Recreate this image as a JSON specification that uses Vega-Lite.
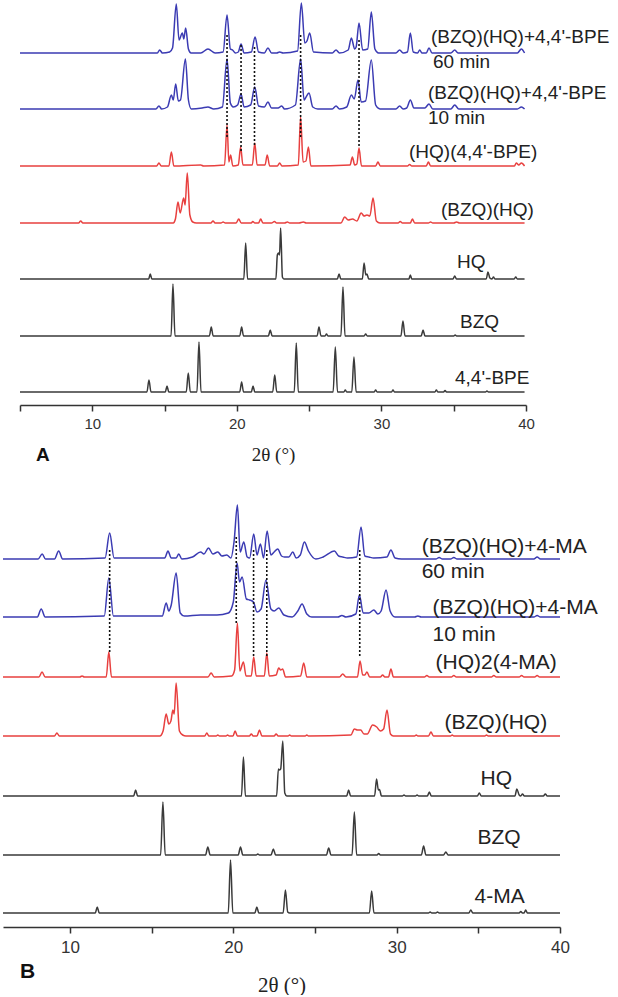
{
"$schema": "https://vega.github.io/schema/vega-lite/v6.json",
"padding": 0,
"background": "white",
"bounds": "flush",
"spacing": 92,
"resolve": {"scale": {"color": "independent"}},
"config": {"view": {"stroke": null}},
"datasets": {
"a": [
{"s":"A60","t":5,"i":352},{"s":"A60","t":14.5,"i":352},{"s":"A60","t":14.66,"i":355},{"s":"A60","t":14.85,"i":352},{"s":"A60","t":15.35,"i":353},{"s":"A60","t":15.55,"i":357},{"s":"A60","t":15.81,"i":401},{"s":"A60","t":16.0,"i":365},{"s":"A60","t":16.23,"i":372},{"s":"A60","t":16.33,"i":366},{"s":"A60","t":16.46,"i":377},{"s":"A60","t":16.65,"i":356},{"s":"A60","t":16.83,"i":352},{"s":"A60","t":17.5,"i":352},{"s":"A60","t":18.0,"i":356},{"s":"A60","t":18.5,"i":352},{"s":"A60","t":19.05,"i":353},{"s":"A60","t":19.32,"i":390},{"s":"A60","t":19.55,"i":356},{"s":"A60","t":19.7,"i":355},{"s":"A60","t":19.9,"i":352},{"s":"A60","t":20.1,"i":353},{"s":"A60","t":20.29,"i":361},{"s":"A60","t":20.5,"i":352},{"s":"A60","t":21.0,"i":353},{"s":"A60","t":21.26,"i":368},{"s":"A60","t":21.5,"i":353},{"s":"A60","t":21.9,"i":352},{"s":"A60","t":22.15,"i":357},{"s":"A60","t":22.4,"i":352},{"s":"A60","t":22.75,"i":352},{"s":"A60","t":22.96,"i":353},{"s":"A60","t":23.2,"i":352},{"s":"A60","t":24.2,"i":354},{"s":"A60","t":24.46,"i":402},{"s":"A60","t":24.7,"i":362},{"s":"A60","t":24.85,"i":364},{"s":"A60","t":25.04,"i":372},{"s":"A60","t":25.3,"i":353},{"s":"A60","t":26.6,"i":352},{"s":"A60","t":26.86,"i":355},{"s":"A60","t":27.1,"i":352},{"s":"A60","t":27.7,"i":355},{"s":"A60","t":27.92,"i":367},{"s":"A60","t":28.15,"i":356},{"s":"A60","t":28.25,"i":358},{"s":"A60","t":28.45,"i":382},{"s":"A60","t":28.7,"i":355},{"s":"A60","t":29.05,"i":356},{"s":"A60","t":29.3,"i":393},{"s":"A60","t":29.55,"i":356},{"s":"A60","t":29.8,"i":352},{"s":"A60","t":31.0,"i":352},{"s":"A60","t":31.26,"i":355},{"s":"A60","t":31.5,"i":352},{"s":"A60","t":31.8,"i":353},{"s":"A60","t":32.0,"i":372},{"s":"A60","t":32.2,"i":353},{"s":"A60","t":32.5,"i":352},{"s":"A60","t":32.65,"i":355},{"s":"A60","t":32.8,"i":352},{"s":"A60","t":33.1,"i":352},{"s":"A60","t":33.29,"i":357},{"s":"A60","t":33.5,"i":352},{"s":"A60","t":34.8,"i":352},{"s":"A60","t":35.07,"i":355},{"s":"A60","t":35.3,"i":352},{"s":"A60","t":39.4,"i":352},{"s":"A60","t":39.68,"i":356},{"s":"A60","t":39.9,"i":352},

{"s":"A10","t":5,"i":296},{"s":"A10","t":14.4,"i":296},{"s":"A10","t":14.61,"i":299},{"s":"A10","t":14.8,"i":296},{"s":"A10","t":15.2,"i":298},{"s":"A10","t":15.47,"i":310},{"s":"A10","t":15.6,"i":305},{"s":"A10","t":15.77,"i":321},{"s":"A10","t":15.95,"i":304},{"s":"A10","t":16.1,"i":305},{"s":"A10","t":16.44,"i":346},{"s":"A10","t":16.65,"i":305},{"s":"A10","t":16.85,"i":296},{"s":"A10","t":17.6,"i":297},{"s":"A10","t":18.0,"i":298},{"s":"A10","t":18.4,"i":296},{"s":"A10","t":19.0,"i":298},{"s":"A10","t":19.32,"i":346},{"s":"A10","t":19.55,"i":302},{"s":"A10","t":19.75,"i":298},{"s":"A10","t":20.05,"i":300},{"s":"A10","t":20.29,"i":311},{"s":"A10","t":20.5,"i":298},{"s":"A10","t":20.95,"i":300},{"s":"A10","t":21.24,"i":318},{"s":"A10","t":21.5,"i":299},{"s":"A10","t":21.9,"i":298},{"s":"A10","t":22.15,"i":303},{"s":"A10","t":22.4,"i":297},{"s":"A10","t":22.85,"i":297},{"s":"A10","t":23.1,"i":299},{"s":"A10","t":23.3,"i":296},{"s":"A10","t":24.05,"i":300},{"s":"A10","t":24.41,"i":346},{"s":"A10","t":24.65,"i":305},{"s":"A10","t":24.75,"i":307},{"s":"A10","t":24.99,"i":312},{"s":"A10","t":25.25,"i":298},{"s":"A10","t":25.6,"i":296},{"s":"A10","t":26.6,"i":296},{"s":"A10","t":26.86,"i":299},{"s":"A10","t":27.1,"i":296},{"s":"A10","t":27.6,"i":298},{"s":"A10","t":27.92,"i":310},{"s":"A10","t":28.12,"i":306},{"s":"A10","t":28.38,"i":325},{"s":"A10","t":28.6,"i":303},{"s":"A10","t":28.9,"i":304},{"s":"A10","t":29.3,"i":345},{"s":"A10","t":29.6,"i":300},{"s":"A10","t":29.9,"i":296},{"s":"A10","t":31.0,"i":296},{"s":"A10","t":31.26,"i":299},{"s":"A10","t":31.5,"i":296},{"s":"A10","t":31.75,"i":297},{"s":"A10","t":32.0,"i":305},{"s":"A10","t":32.25,"i":297},{"s":"A10","t":33.0,"i":297},{"s":"A10","t":33.29,"i":301},{"s":"A10","t":33.55,"i":296},{"s":"A10","t":34.8,"i":296},{"s":"A10","t":35.07,"i":300},{"s":"A10","t":35.35,"i":296},{"s":"A10","t":39.4,"i":296},{"s":"A10","t":39.68,"i":298},{"s":"A10","t":39.9,"i":296},

{"s":"AHB","t":5,"i":239},{"s":"AHB","t":14.45,"i":239},{"s":"AHB","t":14.61,"i":242},{"s":"AHB","t":14.77,"i":239},{"s":"AHB","t":15.3,"i":239},{"s":"AHB","t":15.47,"i":253},{"s":"AHB","t":15.64,"i":239},{"s":"AHB","t":17.5,"i":240},{"s":"AHB","t":17.7,"i":239},{"s":"AHB","t":19.15,"i":240},{"s":"AHB","t":19.32,"i":280},{"s":"AHB","t":19.45,"i":243},{"s":"AHB","t":19.57,"i":250},{"s":"AHB","t":19.72,"i":239},{"s":"AHB","t":20.1,"i":240},{"s":"AHB","t":20.26,"i":258},{"s":"AHB","t":20.42,"i":240},{"s":"AHB","t":21.07,"i":240},{"s":"AHB","t":21.24,"i":262},{"s":"AHB","t":21.4,"i":240},{"s":"AHB","t":21.95,"i":240},{"s":"AHB","t":22.1,"i":250},{"s":"AHB","t":22.27,"i":239},{"s":"AHB","t":22.8,"i":239},{"s":"AHB","t":22.96,"i":242},{"s":"AHB","t":23.12,"i":239},{"s":"AHB","t":24.25,"i":240},{"s":"AHB","t":24.41,"i":288},{"s":"AHB","t":24.58,"i":243},{"s":"AHB","t":24.78,"i":244},{"s":"AHB","t":24.95,"i":258},{"s":"AHB","t":25.12,"i":239},{"s":"AHB","t":27.83,"i":240},{"s":"AHB","t":27.99,"i":248},{"s":"AHB","t":28.15,"i":240},{"s":"AHB","t":28.3,"i":241},{"s":"AHB","t":28.45,"i":257},{"s":"AHB","t":28.62,"i":239},{"s":"AHB","t":29.6,"i":239},{"s":"AHB","t":29.76,"i":243},{"s":"AHB","t":29.92,"i":239},{"s":"AHB","t":31.8,"i":239},{"s":"AHB","t":31.95,"i":240.5},{"s":"AHB","t":32.1,"i":239},{"s":"AHB","t":33.1,"i":239},{"s":"AHB","t":33.25,"i":243},{"s":"AHB","t":33.4,"i":239},{"s":"AHB","t":39.2,"i":239},{"s":"AHB","t":39.33,"i":242},{"s":"AHB","t":39.5,"i":240},{"s":"AHB","t":39.68,"i":242},{"s":"AHB","t":39.9,"i":239},

{"s":"ABH","t":5,"i":182},{"s":"ABH","t":9.05,"i":182},{"s":"ABH","t":9.2,"i":184},{"s":"ABH","t":9.35,"i":182},{"s":"ABH","t":15.6,"i":182},{"s":"ABH","t":15.75,"i":186},{"s":"ABH","t":15.93,"i":203},{"s":"ABH","t":16.08,"i":192},{"s":"ABH","t":16.32,"i":207},{"s":"ABH","t":16.42,"i":200},{"s":"ABH","t":16.57,"i":232},{"s":"ABH","t":16.75,"i":190},{"s":"ABH","t":16.95,"i":183},{"s":"ABH","t":17.2,"i":182},{"s":"ABH","t":18.2,"i":182},{"s":"ABH","t":18.35,"i":184},{"s":"ABH","t":18.5,"i":182},{"s":"ABH","t":18.9,"i":182},{"s":"ABH","t":19.05,"i":183},{"s":"ABH","t":19.2,"i":182},{"s":"ABH","t":19.95,"i":182},{"s":"ABH","t":20.13,"i":186},{"s":"ABH","t":20.3,"i":182},{"s":"ABH","t":21.0,"i":182},{"s":"ABH","t":21.1,"i":183.5},{"s":"ABH","t":21.25,"i":182},{"s":"ABH","t":21.5,"i":182},{"s":"ABH","t":21.65,"i":186},{"s":"ABH","t":21.8,"i":182},{"s":"ABH","t":22.4,"i":182},{"s":"ABH","t":22.6,"i":183.5},{"s":"ABH","t":22.75,"i":182},{"s":"ABH","t":23.3,"i":182},{"s":"ABH","t":23.5,"i":183},{"s":"ABH","t":23.65,"i":182},{"s":"ABH","t":24.3,"i":182},{"s":"ABH","t":24.6,"i":183},{"s":"ABH","t":24.8,"i":182},{"s":"ABH","t":27.2,"i":182},{"s":"ABH","t":27.46,"i":188},{"s":"ABH","t":27.7,"i":185},{"s":"ABH","t":28.0,"i":186},{"s":"ABH","t":28.3,"i":184},{"s":"ABH","t":28.6,"i":192},{"s":"ABH","t":28.8,"i":189},{"s":"ABH","t":29.0,"i":190},{"s":"ABH","t":29.2,"i":189},{"s":"ABH","t":29.42,"i":207},{"s":"ABH","t":29.65,"i":184},{"s":"ABH","t":29.9,"i":182},{"s":"ABH","t":31.15,"i":182},{"s":"ABH","t":31.3,"i":183.5},{"s":"ABH","t":31.45,"i":182},{"s":"ABH","t":32.0,"i":182},{"s":"ABH","t":32.14,"i":186},{"s":"ABH","t":32.3,"i":182},{"s":"ABH","t":33.25,"i":182},{"s":"ABH","t":33.4,"i":183},{"s":"ABH","t":33.55,"i":182},{"s":"ABH","t":35.0,"i":182},{"s":"ABH","t":35.2,"i":183},{"s":"ABH","t":35.4,"i":182},{"s":"ABH","t":39.9,"i":182},

{"s":"AHQ","t":5,"i":126},{"s":"AHQ","t":13.9,"i":126},{"s":"AHQ","t":14.01,"i":131},{"s":"AHQ","t":14.12,"i":126},{"s":"AHQ","t":20.48,"i":126},{"s":"AHQ","t":20.61,"i":162},{"s":"AHQ","t":20.74,"i":126},{"s":"AHQ","t":22.7,"i":126},{"s":"AHQ","t":22.8,"i":150},{"s":"AHQ","t":22.87,"i":152},{"s":"AHQ","t":22.95,"i":150},{"s":"AHQ","t":23.03,"i":177},{"s":"AHQ","t":23.15,"i":128},{"s":"AHQ","t":23.25,"i":126},{"s":"AHQ","t":26.95,"i":126},{"s":"AHQ","t":27.07,"i":131},{"s":"AHQ","t":27.19,"i":126},{"s":"AHQ","t":28.68,"i":126},{"s":"AHQ","t":28.8,"i":142},{"s":"AHQ","t":28.92,"i":130},{"s":"AHQ","t":29.0,"i":131},{"s":"AHQ","t":29.12,"i":126},{"s":"AHQ","t":31.9,"i":126},{"s":"AHQ","t":32.0,"i":130},{"s":"AHQ","t":32.1,"i":126},{"s":"AHQ","t":34.95,"i":126},{"s":"AHQ","t":35.07,"i":129},{"s":"AHQ","t":35.19,"i":126},{"s":"AHQ","t":37.25,"i":126},{"s":"AHQ","t":37.37,"i":133},{"s":"AHQ","t":37.5,"i":127},{"s":"AHQ","t":37.65,"i":126},{"s":"AHQ","t":37.75,"i":128},{"s":"AHQ","t":37.85,"i":126},{"s":"AHQ","t":39.18,"i":126},{"s":"AHQ","t":39.29,"i":128},{"s":"AHQ","t":39.4,"i":126},{"s":"AHQ","t":39.9,"i":126},

{"s":"ABZ","t":5,"i":69},{"s":"ABZ","t":15.45,"i":69},{"s":"ABZ","t":15.58,"i":121},{"s":"ABZ","t":15.72,"i":69},{"s":"ABZ","t":18.1,"i":69},{"s":"ABZ","t":18.23,"i":78},{"s":"ABZ","t":18.36,"i":69},{"s":"ABZ","t":20.2,"i":69},{"s":"ABZ","t":20.33,"i":78},{"s":"ABZ","t":20.46,"i":69},{"s":"ABZ","t":22.18,"i":69},{"s":"ABZ","t":22.31,"i":75},{"s":"ABZ","t":22.44,"i":69},{"s":"ABZ","t":25.55,"i":69},{"s":"ABZ","t":25.68,"i":78},{"s":"ABZ","t":25.82,"i":69},{"s":"ABZ","t":26.1,"i":69},{"s":"ABZ","t":26.2,"i":71},{"s":"ABZ","t":26.3,"i":69},{"s":"ABZ","t":27.2,"i":69},{"s":"ABZ","t":27.34,"i":118},{"s":"ABZ","t":27.48,"i":69},{"s":"ABZ","t":28.8,"i":69},{"s":"ABZ","t":28.91,"i":71},{"s":"ABZ","t":29.02,"i":69},{"s":"ABZ","t":31.35,"i":69},{"s":"ABZ","t":31.49,"i":84},{"s":"ABZ","t":31.63,"i":69},{"s":"ABZ","t":32.75,"i":69},{"s":"ABZ","t":32.88,"i":75},{"s":"ABZ","t":33.01,"i":69},{"s":"ABZ","t":35.0,"i":69},{"s":"ABZ","t":35.1,"i":70},{"s":"ABZ","t":35.2,"i":69},{"s":"ABZ","t":39.9,"i":69},

{"s":"ABP","t":5,"i":13},{"s":"ABP","t":13.78,"i":13},{"s":"ABP","t":13.92,"i":25},{"s":"ABP","t":14.06,"i":13},{"s":"ABP","t":15.05,"i":13},{"s":"ABP","t":15.17,"i":19},{"s":"ABP","t":15.29,"i":13},{"s":"ABP","t":16.5,"i":13},{"s":"ABP","t":16.64,"i":32},{"s":"ABP","t":16.78,"i":13},{"s":"ABP","t":17.24,"i":13},{"s":"ABP","t":17.38,"i":63},{"s":"ABP","t":17.52,"i":13},{"s":"ABP","t":20.2,"i":13},{"s":"ABP","t":20.33,"i":23},{"s":"ABP","t":20.46,"i":13},{"s":"ABP","t":21.0,"i":13},{"s":"ABP","t":21.12,"i":19},{"s":"ABP","t":21.24,"i":13},{"s":"ABP","t":22.48,"i":13},{"s":"ABP","t":22.62,"i":30},{"s":"ABP","t":22.76,"i":13},{"s":"ABP","t":23.97,"i":13},{"s":"ABP","t":24.11,"i":62},{"s":"ABP","t":24.25,"i":13},{"s":"ABP","t":26.66,"i":13},{"s":"ABP","t":26.81,"i":58},{"s":"ABP","t":26.96,"i":13},{"s":"ABP","t":27.4,"i":13},{"s":"ABP","t":27.5,"i":15},{"s":"ABP","t":27.6,"i":13},{"s":"ABP","t":27.95,"i":13},{"s":"ABP","t":28.1,"i":48},{"s":"ABP","t":28.25,"i":13},{"s":"ABP","t":29.5,"i":13},{"s":"ABP","t":29.6,"i":15},{"s":"ABP","t":29.7,"i":13},{"s":"ABP","t":30.7,"i":13},{"s":"ABP","t":30.8,"i":15},{"s":"ABP","t":30.9,"i":13},{"s":"ABP","t":33.7,"i":13},{"s":"ABP","t":33.8,"i":15},{"s":"ABP","t":33.9,"i":13},{"s":"ABP","t":34.3,"i":13},{"s":"ABP","t":34.4,"i":14.5},{"s":"ABP","t":34.5,"i":13},{"s":"ABP","t":37.2,"i":13},{"s":"ABP","t":37.3,"i":14},{"s":"ABP","t":37.4,"i":13},{"s":"ABP","t":39.9,"i":13}
],
"b": [
{"s":"B60","t":5.9,"i":368},{"s":"B60","t":8.05,"i":368},{"s":"B60","t":8.3,"i":373},{"s":"B60","t":8.5,"i":368},{"s":"B60","t":9.05,"i":368},{"s":"B60","t":9.31,"i":376},{"s":"B60","t":9.55,"i":368},{"s":"B60","t":12.15,"i":369},{"s":"B60","t":12.43,"i":394},{"s":"B60","t":12.7,"i":369},{"s":"B60","t":15.8,"i":369},{"s":"B60","t":16.0,"i":376},{"s":"B60","t":16.2,"i":369},{"s":"B60","t":16.5,"i":369},{"s":"B60","t":16.66,"i":373},{"s":"B60","t":16.85,"i":368},{"s":"B60","t":17.5,"i":370},{"s":"B60","t":18.0,"i":375},{"s":"B60","t":18.2,"i":373},{"s":"B60","t":18.48,"i":379},{"s":"B60","t":18.75,"i":373},{"s":"B60","t":19.05,"i":375},{"s":"B60","t":19.3,"i":371},{"s":"B60","t":19.6,"i":372},{"s":"B60","t":19.85,"i":369},{"s":"B60","t":20.05,"i":386},{"s":"B60","t":20.25,"i":422},{"s":"B60","t":20.42,"i":375},{"s":"B60","t":20.64,"i":385},{"s":"B60","t":20.85,"i":370},{"s":"B60","t":21.0,"i":369},{"s":"B60","t":21.25,"i":393},{"s":"B60","t":21.45,"i":372},{"s":"B60","t":21.66,"i":383},{"s":"B60","t":21.85,"i":369},{"s":"B60","t":22.07,"i":396},{"s":"B60","t":22.3,"i":372},{"s":"B60","t":22.5,"i":375},{"s":"B60","t":22.72,"i":378},{"s":"B60","t":22.95,"i":371},{"s":"B60","t":23.13,"i":370},{"s":"B60","t":23.4,"i":370},{"s":"B60","t":23.64,"i":375},{"s":"B60","t":23.85,"i":369},{"s":"B60","t":24.1,"i":372},{"s":"B60","t":24.35,"i":385},{"s":"B60","t":24.6,"i":376},{"s":"B60","t":25.05,"i":368},{"s":"B60","t":25.5,"i":370},{"s":"B60","t":26.19,"i":376},{"s":"B60","t":26.45,"i":371},{"s":"B60","t":26.7,"i":370},{"s":"B60","t":27.0,"i":369},{"s":"B60","t":27.55,"i":370},{"s":"B60","t":27.82,"i":400},{"s":"B60","t":28.05,"i":371},{"s":"B60","t":28.3,"i":370},{"s":"B60","t":28.6,"i":369},{"s":"B60","t":29.4,"i":370},{"s":"B60","t":29.65,"i":377},{"s":"B60","t":29.9,"i":369},{"s":"B60","t":30.3,"i":368},{"s":"B60","t":32.4,"i":368},{"s":"B60","t":32.6,"i":369.5},{"s":"B60","t":32.8,"i":368},{"s":"B60","t":33.3,"i":368},{"s":"B60","t":33.5,"i":369.5},{"s":"B60","t":33.7,"i":368},{"s":"B60","t":38.4,"i":368},{"s":"B60","t":38.6,"i":370},{"s":"B60","t":38.8,"i":368},{"s":"B60","t":40,"i":368},

{"s":"B10","t":5.9,"i":310},{"s":"B10","t":8.0,"i":310},{"s":"B10","t":8.24,"i":318},{"s":"B10","t":8.48,"i":310},{"s":"B10","t":12.1,"i":311},{"s":"B10","t":12.38,"i":349},{"s":"B10","t":12.66,"i":311},{"s":"B10","t":15.65,"i":311},{"s":"B10","t":15.89,"i":324},{"s":"B10","t":16.05,"i":316},{"s":"B10","t":16.2,"i":322},{"s":"B10","t":16.5,"i":354},{"s":"B10","t":16.75,"i":314},{"s":"B10","t":17.0,"i":311},{"s":"B10","t":18.0,"i":312},{"s":"B10","t":19.0,"i":312},{"s":"B10","t":19.7,"i":314},{"s":"B10","t":20.0,"i":325},{"s":"B10","t":20.23,"i":364},{"s":"B10","t":20.38,"i":345},{"s":"B10","t":20.54,"i":350},{"s":"B10","t":20.8,"i":328},{"s":"B10","t":21.0,"i":327},{"s":"B10","t":21.23,"i":325},{"s":"B10","t":21.45,"i":315},{"s":"B10","t":21.7,"i":318},{"s":"B10","t":22.0,"i":347},{"s":"B10","t":22.3,"i":318},{"s":"B10","t":22.5,"i":316},{"s":"B10","t":22.78,"i":319},{"s":"B10","t":23.1,"i":312},{"s":"B10","t":23.6,"i":310},{"s":"B10","t":23.95,"i":316},{"s":"B10","t":24.21,"i":323},{"s":"B10","t":24.5,"i":313},{"s":"B10","t":24.8,"i":310},{"s":"B10","t":26.4,"i":310},{"s":"B10","t":26.65,"i":311.5},{"s":"B10","t":26.9,"i":310},{"s":"B10","t":27.5,"i":313},{"s":"B10","t":27.72,"i":332},{"s":"B10","t":27.95,"i":314},{"s":"B10","t":28.3,"i":314},{"s":"B10","t":28.6,"i":317},{"s":"B10","t":28.85,"i":313},{"s":"B10","t":29.05,"i":316},{"s":"B10","t":29.35,"i":337},{"s":"B10","t":29.6,"i":316},{"s":"B10","t":29.9,"i":310},{"s":"B10","t":31.1,"i":310},{"s":"B10","t":31.3,"i":311},{"s":"B10","t":31.5,"i":310},{"s":"B10","t":38.4,"i":310},{"s":"B10","t":38.6,"i":311.5},{"s":"B10","t":38.8,"i":310},{"s":"B10","t":40,"i":310},

{"s":"BHM","t":5.9,"i":250},{"s":"BHM","t":8.1,"i":250},{"s":"BHM","t":8.29,"i":255},{"s":"BHM","t":8.48,"i":250},{"s":"BHM","t":10.6,"i":250},{"s":"BHM","t":10.74,"i":251},{"s":"BHM","t":10.88,"i":250},{"s":"BHM","t":12.22,"i":250},{"s":"BHM","t":12.38,"i":275},{"s":"BHM","t":12.54,"i":250},{"s":"BHM","t":18.45,"i":250},{"s":"BHM","t":18.64,"i":254},{"s":"BHM","t":18.83,"i":250},{"s":"BHM","t":19.9,"i":251},{"s":"BHM","t":20.08,"i":257},{"s":"BHM","t":20.25,"i":304},{"s":"BHM","t":20.4,"i":256},{"s":"BHM","t":20.62,"i":265},{"s":"BHM","t":20.78,"i":251},{"s":"BHM","t":21.1,"i":251},{"s":"BHM","t":21.25,"i":270},{"s":"BHM","t":21.4,"i":251},{"s":"BHM","t":21.9,"i":251},{"s":"BHM","t":22.05,"i":274},{"s":"BHM","t":22.2,"i":251},{"s":"BHM","t":22.62,"i":252},{"s":"BHM","t":22.78,"i":259},{"s":"BHM","t":22.9,"i":257},{"s":"BHM","t":23.02,"i":258},{"s":"BHM","t":23.2,"i":250},{"s":"BHM","t":24.12,"i":251},{"s":"BHM","t":24.31,"i":264},{"s":"BHM","t":24.5,"i":250},{"s":"BHM","t":26.5,"i":250},{"s":"BHM","t":26.7,"i":253},{"s":"BHM","t":26.9,"i":250},{"s":"BHM","t":27.6,"i":250},{"s":"BHM","t":27.76,"i":266},{"s":"BHM","t":27.92,"i":252},{"s":"BHM","t":28.05,"i":252},{"s":"BHM","t":28.18,"i":255},{"s":"BHM","t":28.35,"i":250},{"s":"BHM","t":29.0,"i":250},{"s":"BHM","t":29.14,"i":252},{"s":"BHM","t":29.28,"i":250},{"s":"BHM","t":29.5,"i":250},{"s":"BHM","t":29.65,"i":258},{"s":"BHM","t":29.8,"i":250},{"s":"BHM","t":31.7,"i":250},{"s":"BHM","t":31.85,"i":251.5},{"s":"BHM","t":32.0,"i":250},{"s":"BHM","t":33.35,"i":250},{"s":"BHM","t":33.5,"i":251.5},{"s":"BHM","t":33.65,"i":250},{"s":"BHM","t":35.8,"i":250},{"s":"BHM","t":35.95,"i":251.5},{"s":"BHM","t":36.1,"i":250},{"s":"BHM","t":37.5,"i":250},{"s":"BHM","t":37.65,"i":251.5},{"s":"BHM","t":37.8,"i":250},{"s":"BHM","t":38.45,"i":250},{"s":"BHM","t":38.6,"i":251.5},{"s":"BHM","t":38.75,"i":250},{"s":"BHM","t":40,"i":250},

{"s":"BBH","t":5.9,"i":191},{"s":"BBH","t":9.05,"i":191},{"s":"BBH","t":9.2,"i":194},{"s":"BBH","t":9.35,"i":191},{"s":"BBH","t":15.5,"i":191},{"s":"BBH","t":15.7,"i":196},{"s":"BBH","t":15.89,"i":213},{"s":"BBH","t":16.05,"i":203},{"s":"BBH","t":16.18,"i":206},{"s":"BBH","t":16.3,"i":217},{"s":"BBH","t":16.38,"i":213},{"s":"BBH","t":16.5,"i":244},{"s":"BBH","t":16.7,"i":196},{"s":"BBH","t":16.9,"i":192},{"s":"BBH","t":17.1,"i":191},{"s":"BBH","t":18.25,"i":191},{"s":"BBH","t":18.38,"i":194},{"s":"BBH","t":18.5,"i":191},{"s":"BBH","t":18.95,"i":191},{"s":"BBH","t":19.05,"i":192},{"s":"BBH","t":19.15,"i":191},{"s":"BBH","t":19.55,"i":191},{"s":"BBH","t":19.65,"i":192},{"s":"BBH","t":19.75,"i":191},{"s":"BBH","t":19.98,"i":191},{"s":"BBH","t":20.11,"i":196},{"s":"BBH","t":20.25,"i":191},{"s":"BBH","t":20.98,"i":191},{"s":"BBH","t":21.1,"i":193},{"s":"BBH","t":21.22,"i":191},{"s":"BBH","t":21.45,"i":191},{"s":"BBH","t":21.6,"i":197},{"s":"BBH","t":21.75,"i":191},{"s":"BBH","t":22.5,"i":191},{"s":"BBH","t":22.62,"i":193},{"s":"BBH","t":22.75,"i":191},{"s":"BBH","t":23.35,"i":191},{"s":"BBH","t":23.45,"i":192},{"s":"BBH","t":23.55,"i":191},{"s":"BBH","t":24.4,"i":191},{"s":"BBH","t":24.5,"i":192},{"s":"BBH","t":24.6,"i":191},{"s":"BBH","t":27.2,"i":192},{"s":"BBH","t":27.41,"i":198},{"s":"BBH","t":27.6,"i":197},{"s":"BBH","t":27.8,"i":197},{"s":"BBH","t":28.0,"i":193},{"s":"BBH","t":28.2,"i":193},{"s":"BBH","t":28.53,"i":202},{"s":"BBH","t":28.78,"i":200},{"s":"BBH","t":29.0,"i":196},{"s":"BBH","t":29.2,"i":198},{"s":"BBH","t":29.41,"i":217},{"s":"BBH","t":29.62,"i":193},{"s":"BBH","t":29.8,"i":191},{"s":"BBH","t":31.1,"i":191},{"s":"BBH","t":31.2,"i":192},{"s":"BBH","t":31.3,"i":191},{"s":"BBH","t":31.95,"i":191},{"s":"BBH","t":32.1,"i":195},{"s":"BBH","t":32.25,"i":191},{"s":"BBH","t":33.3,"i":191},{"s":"BBH","t":33.4,"i":192},{"s":"BBH","t":33.5,"i":191},{"s":"BBH","t":35.4,"i":191},{"s":"BBH","t":35.5,"i":192},{"s":"BBH","t":35.6,"i":191},{"s":"BBH","t":40,"i":191},

{"s":"BHQ","t":5.9,"i":131},{"s":"BHQ","t":13.9,"i":131},{"s":"BHQ","t":14.02,"i":137},{"s":"BHQ","t":14.14,"i":131},{"s":"BHQ","t":20.5,"i":131},{"s":"BHQ","t":20.62,"i":170},{"s":"BHQ","t":20.74,"i":131},{"s":"BHQ","t":22.65,"i":131},{"s":"BHQ","t":22.76,"i":158},{"s":"BHQ","t":22.84,"i":157},{"s":"BHQ","t":22.9,"i":158},{"s":"BHQ","t":23.03,"i":186},{"s":"BHQ","t":23.15,"i":134},{"s":"BHQ","t":23.27,"i":131},{"s":"BHQ","t":26.94,"i":131},{"s":"BHQ","t":27.06,"i":137},{"s":"BHQ","t":27.18,"i":131},{"s":"BHQ","t":28.65,"i":131},{"s":"BHQ","t":28.77,"i":148},{"s":"BHQ","t":28.88,"i":137},{"s":"BHQ","t":28.95,"i":137.5},{"s":"BHQ","t":29.07,"i":131},{"s":"BHQ","t":30.35,"i":131},{"s":"BHQ","t":30.45,"i":132},{"s":"BHQ","t":30.55,"i":131},{"s":"BHQ","t":31.15,"i":131},{"s":"BHQ","t":31.25,"i":132},{"s":"BHQ","t":31.35,"i":131},{"s":"BHQ","t":31.88,"i":131},{"s":"BHQ","t":32.0,"i":135},{"s":"BHQ","t":32.12,"i":131},{"s":"BHQ","t":34.94,"i":131},{"s":"BHQ","t":35.06,"i":134},{"s":"BHQ","t":35.18,"i":131},{"s":"BHQ","t":37.24,"i":131},{"s":"BHQ","t":37.36,"i":138},{"s":"BHQ","t":37.5,"i":132},{"s":"BHQ","t":37.6,"i":131},{"s":"BHQ","t":37.7,"i":133},{"s":"BHQ","t":37.82,"i":131},{"s":"BHQ","t":38.98,"i":131},{"s":"BHQ","t":39.1,"i":133},{"s":"BHQ","t":39.22,"i":131},{"s":"BHQ","t":40,"i":131},

{"s":"BBZ","t":5.9,"i":72},{"s":"BBZ","t":15.55,"i":72},{"s":"BBZ","t":15.69,"i":125},{"s":"BBZ","t":15.83,"i":72},{"s":"BBZ","t":18.3,"i":72},{"s":"BBZ","t":18.44,"i":80},{"s":"BBZ","t":18.58,"i":72},{"s":"BBZ","t":20.3,"i":72},{"s":"BBZ","t":20.44,"i":80},{"s":"BBZ","t":20.58,"i":72},{"s":"BBZ","t":21.4,"i":72},{"s":"BBZ","t":21.5,"i":73},{"s":"BBZ","t":21.6,"i":72},{"s":"BBZ","t":22.31,"i":72},{"s":"BBZ","t":22.45,"i":78},{"s":"BBZ","t":22.59,"i":72},{"s":"BBZ","t":25.7,"i":72},{"s":"BBZ","t":25.84,"i":79},{"s":"BBZ","t":25.98,"i":72},{"s":"BBZ","t":27.27,"i":72},{"s":"BBZ","t":27.41,"i":115},{"s":"BBZ","t":27.55,"i":72},{"s":"BBZ","t":28.8,"i":72},{"s":"BBZ","t":28.9,"i":73.5},{"s":"BBZ","t":29.0,"i":72},{"s":"BBZ","t":31.51,"i":72},{"s":"BBZ","t":31.65,"i":81},{"s":"BBZ","t":31.79,"i":72},{"s":"BBZ","t":32.87,"i":72},{"s":"BBZ","t":33.01,"i":75},{"s":"BBZ","t":33.15,"i":72},{"s":"BBZ","t":40,"i":72},

{"s":"BMA","t":5.9,"i":14},{"s":"BMA","t":11.55,"i":14},{"s":"BMA","t":11.67,"i":20},{"s":"BMA","t":11.79,"i":14},{"s":"BMA","t":19.69,"i":14},{"s":"BMA","t":19.83,"i":67},{"s":"BMA","t":19.97,"i":14},{"s":"BMA","t":21.32,"i":14},{"s":"BMA","t":21.44,"i":20},{"s":"BMA","t":21.56,"i":14},{"s":"BMA","t":23.05,"i":14},{"s":"BMA","t":23.19,"i":37},{"s":"BMA","t":23.33,"i":15},{"s":"BMA","t":23.45,"i":14},{"s":"BMA","t":28.33,"i":14},{"s":"BMA","t":28.47,"i":36},{"s":"BMA","t":28.61,"i":14},{"s":"BMA","t":31.95,"i":14},{"s":"BMA","t":32.05,"i":15},{"s":"BMA","t":32.15,"i":14},{"s":"BMA","t":32.4,"i":14},{"s":"BMA","t":32.5,"i":15},{"s":"BMA","t":32.6,"i":14},{"s":"BMA","t":34.42,"i":14},{"s":"BMA","t":34.54,"i":17},{"s":"BMA","t":34.66,"i":14},{"s":"BMA","t":37.5,"i":14},{"s":"BMA","t":37.6,"i":15.5},{"s":"BMA","t":37.7,"i":14},{"s":"BMA","t":37.8,"i":14},{"s":"BMA","t":37.9,"i":17},{"s":"BMA","t":38.0,"i":14},{"s":"BMA","t":40,"i":14}
],
"aDots": [
{"t":19.32,"y1":370,"y2":268},{"t":20.29,"y1":360,"y2":253},{"t":21.22,"y1":358,"y2":260},{"t":24.41,"y1":370,"y2":268},{"t":28.45,"y1":365,"y2":257}
],
"bDots": [
{"t":12.43,"y1":377,"y2":274},{"t":20.18,"y1":390,"y2":304},{"t":21.24,"y1":377,"y2":270},{"t":22.05,"y1":377,"y2":270},{"t":27.74,"y1":377,"y2":269}
],
"aLabels": [
{"t":33.43,"i":368,"label":"(BZQ)(HQ)+4,4'-BPE"},
{"t":33.57,"i":343,"label":"60 min"},
{"t":33.22,"i":312,"label":"(BZQ)(HQ)+4,4'-BPE"},
{"t":33.22,"i":287,"label":"10 min"},
{"t":31.91,"i":253,"label":"(HQ)(4,4'-BPE)"},
{"t":34.12,"i":195,"label":"(BZQ)(HQ)"},
{"t":35.23,"i":143,"label":"HQ"},
{"t":35.44,"i":83,"label":"BZQ"},
{"t":35.09,"i":27,"label":"4,4'-BPE"}
],
"bLabels": [
{"t":31.53,"i":380,"label":"(BZQ)(HQ)+4-MA"},
{"t":31.53,"i":355,"label":"60 min"},
{"t":32.2,"i":319,"label":"(BZQ)(HQ)+4-MA"},
{"t":32.2,"i":292,"label":"10 min"},
{"t":32.38,"i":264,"label":"(HQ)2(4-MA)"},
{"t":32.93,"i":204,"label":"(BZQ)(HQ)"},
{"t":35.14,"i":148,"label":"HQ"},
{"t":34.95,"i":89,"label":"BZQ"},
{"t":34.77,"i":30,"label":"4-MA"}
]
},
"vconcat": [
{
"width": 523,
"height": 405,
"encoding": {
"x": {"field": "t", "type": "quantitative", "scale": {"domain": [5, 40], "range": [17, 523]},
"axis": {"values": [5, 10, 15, 20, 25, 30, 35, 40], "labelExpr": "datum.value % 10 === 0 ? datum.label : ''", "labelFlush": false, "labelOverlap": false, "grid": false, "title": "2θ (°)", "titleFont": "Liberation Serif", "titleFontSize": 19, "titleFontWeight": "normal", "titleColor": "#222", "titlePadding": 14, "labelFont": "Liberation Sans", "labelFontSize": 15, "labelColor": "#333", "labelPadding": 5, "tickSize": 6, "tickWidth": 1.5, "tickColor": "#333", "domainColor": "#333", "domainWidth": 1.6}},
"y": {"field": "i", "type": "quantitative", "scale": {"domain": [0, 405]}, "axis": null}
},
"layer": [
{"data": {"name": "a"}, "mark": {"type": "line", "strokeWidth": 1.5, "interpolate": "monotone"},
"encoding": {"color": {"field": "s", "type": "nominal", "legend": null,
"scale": {"domain": ["A60", "A10", "AHB", "ABH", "AHQ", "ABZ", "ABP"], "range": ["#3b3bb3", "#3b3bb3", "#e8403f", "#e8403f", "#3a3a3a", "#3a3a3a", "#3a3a3a"]}}}},
{"data": {"name": "aDots"}, "mark": {"type": "rule", "strokeDash": [2, 2], "strokeWidth": 1.6, "color": "#111"},
"encoding": {"y": {"field": "y1", "type": "quantitative"}, "y2": {"field": "y2"}}},
{"data": {"name": "aLabels"}, "mark": {"type": "text", "align": "left", "baseline": "middle", "font": "Liberation Sans", "fontSize": 19, "color": "#222"},
"encoding": {"text": {"field": "label"}}},
{"data": {"values": [{"t": 6.11, "i": -50, "label": "A"}]}, "mark": {"type": "text", "align": "left", "baseline": "middle", "font": "Liberation Sans", "fontSize": 19, "fontWeight": "bold", "color": "#111"},
"encoding": {"text": {"field": "label"}}}
]
},
{
"width": 557,
"height": 430,
"encoding": {
"x": {"field": "t", "type": "quantitative", "scale": {"domain": [5.9, 40]},
"axis": {"values": [10, 15, 20, 25, 30, 35, 40], "labelExpr": "datum.value % 10 === 0 ? datum.label : ''", "labelFlush": false, "labelOverlap": false, "grid": false, "title": "2θ (°)", "titleFont": "Liberation Serif", "titleFontSize": 21, "titleFontWeight": "normal", "titleColor": "#222", "titlePadding": 19, "labelFont": "Liberation Sans", "labelFontSize": 17, "labelColor": "#333", "labelPadding": 6, "tickSize": 6, "tickWidth": 1.5, "tickColor": "#333", "domainColor": "#333", "domainWidth": 1.6}},
"y": {"field": "i", "type": "quantitative", "scale": {"domain": [0, 430]}, "axis": null}
},
"layer": [
{"data": {"name": "b"}, "mark": {"type": "line", "strokeWidth": 1.5, "interpolate": "monotone"},
"encoding": {"color": {"field": "s", "type": "nominal", "legend": null,
"scale": {"domain": ["B60", "B10", "BHM", "BBH", "BHQ", "BBZ", "BMA"], "range": ["#3b3bb3", "#3b3bb3", "#e8403f", "#e8403f", "#3a3a3a", "#3a3a3a", "#3a3a3a"]}}}},
{"data": {"name": "bDots"}, "mark": {"type": "rule", "strokeDash": [2, 2], "strokeWidth": 1.6, "color": "#111"},
"encoding": {"y": {"field": "y1", "type": "quantitative"}, "y2": {"field": "y2"}}},
{"data": {"name": "bLabels"}, "mark": {"type": "text", "align": "left", "baseline": "middle", "font": "Liberation Sans", "fontSize": 21, "color": "#222"},
"encoding": {"text": {"field": "label"}}},
{"data": {"values": [{"t": 6.94, "i": -45, "label": "B"}]}, "mark": {"type": "text", "align": "left", "baseline": "middle", "font": "Liberation Sans", "fontSize": 21, "fontWeight": "bold", "color": "#111"},
"encoding": {"text": {"field": "label"}}}
]
}
]
}
